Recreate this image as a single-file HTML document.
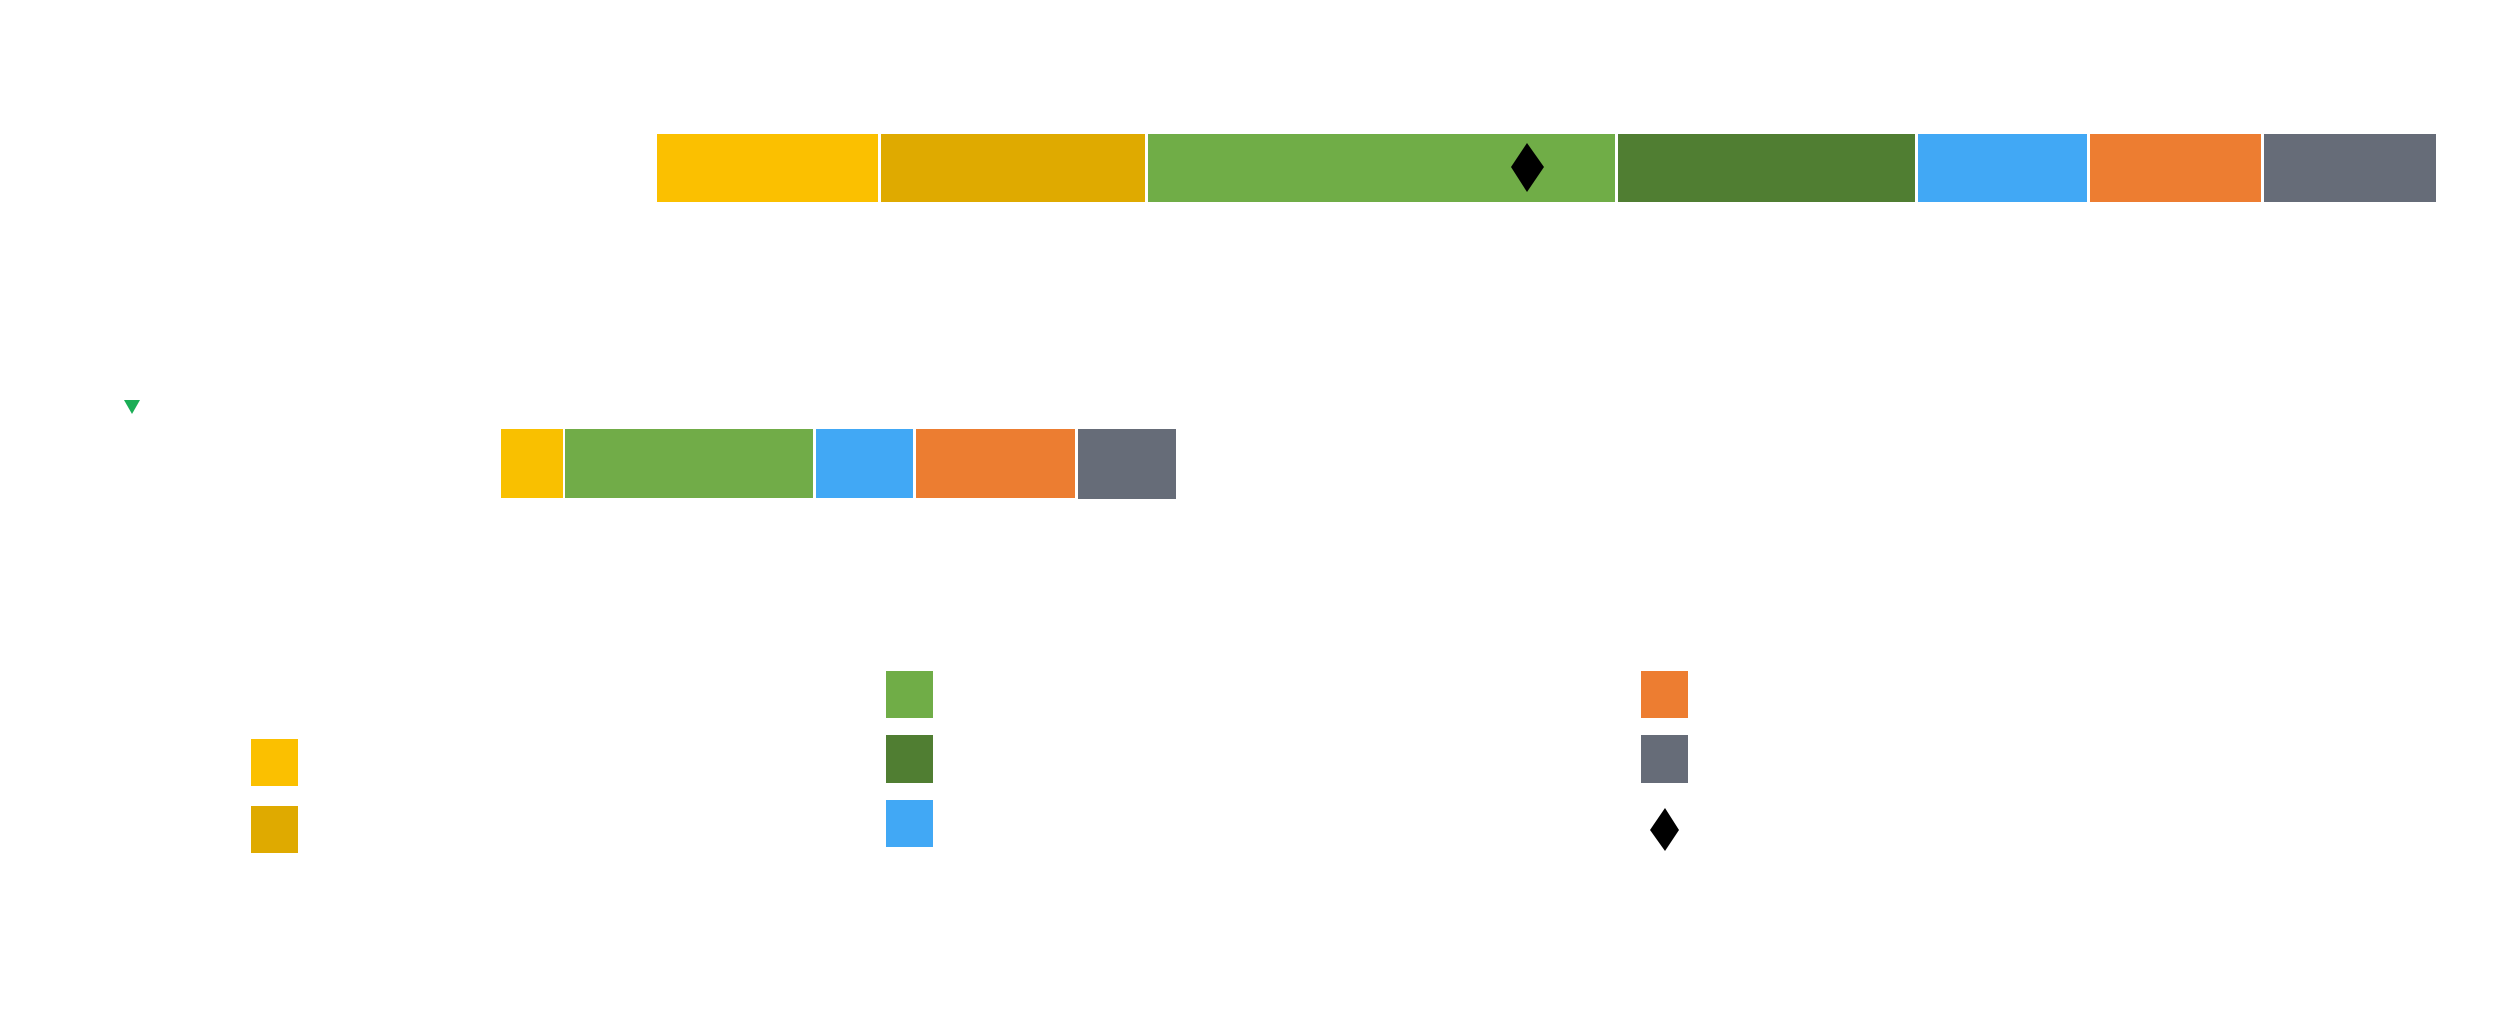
<!DOCTYPE html>
<html><head><meta charset="utf-8"><style>
html,body{margin:0;padding:0;background:#fff;width:2500px;height:1034px;overflow:hidden}
.r{position:absolute}
</style></head><body>
<div class="r" style="left:657px;top:134px;width:221px;height:68px;background:#fbc000"></div>
<div class="r" style="left:881px;top:134px;width:264px;height:68px;background:#dfaa00"></div>
<div class="r" style="left:1148px;top:134px;width:467px;height:68px;background:#70ad47"></div>
<div class="r" style="left:1618px;top:134px;width:297px;height:68px;background:#507e32"></div>
<div class="r" style="left:1918px;top:134px;width:169px;height:68px;background:#41a8f5"></div>
<div class="r" style="left:2090px;top:134px;width:171px;height:68px;background:#ed7d31"></div>
<div class="r" style="left:2264px;top:134px;width:172px;height:68px;background:#666c78"></div>

<div class="r" style="left:501px;top:429px;width:62px;height:69px;background:#f9c000"></div>
<div class="r" style="left:565px;top:429px;width:248px;height:69px;background:#71ac48"></div>
<div class="r" style="left:816px;top:429px;width:97px;height:69px;background:#41a8f5"></div>
<div class="r" style="left:916px;top:429px;width:159px;height:69px;background:#ec7d31"></div>
<div class="r" style="left:1078px;top:429px;width:98px;height:70px;background:#666c78"></div>

<div class="r" style="left:251px;top:739px;width:47px;height:47px;background:#fbc000"></div>
<div class="r" style="left:251px;top:806px;width:47px;height:47px;background:#dfaa00"></div>
<div class="r" style="left:886px;top:671px;width:47px;height:47px;background:#70ad47"></div>
<div class="r" style="left:886px;top:735px;width:47px;height:48px;background:#507e32"></div>
<div class="r" style="left:886px;top:800px;width:47px;height:47px;background:#41a8f5"></div>
<div class="r" style="left:1641px;top:671px;width:47px;height:47px;background:#ed7d31"></div>
<div class="r" style="left:1641px;top:735px;width:47px;height:48px;background:#666c78"></div>

<svg class="r" style="left:0;top:0" width="2500" height="1034">
<polygon points="1527,143 1544,167 1527,192 1511,167" fill="#000"/>
<polygon points="1665,808 1679,830 1665,851 1650,830" fill="#000"/>
<polygon points="124,400 140,400 132,414" fill="#1aad55"/>
</svg>
</body></html>
